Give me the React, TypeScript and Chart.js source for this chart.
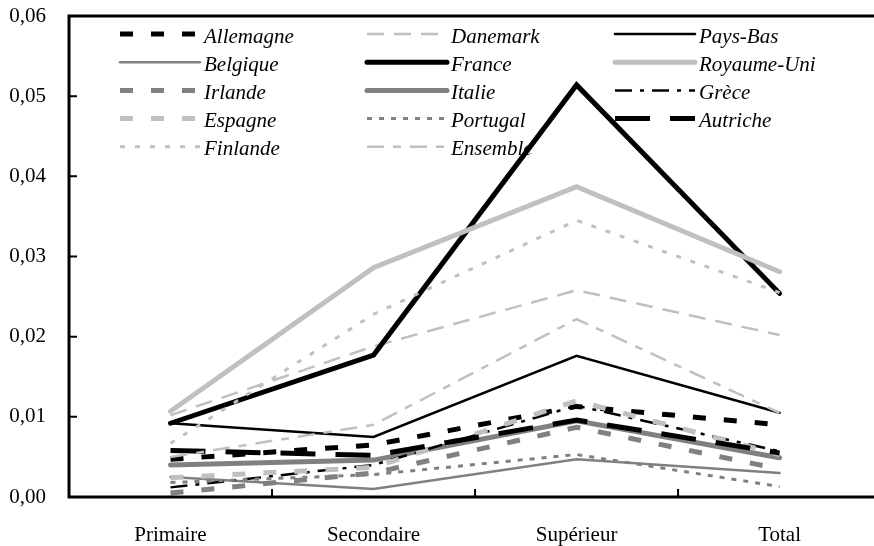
import React, { useEffect, useRef } from 'react';
import { Chart, registerables } from 'chart.js';

Chart.register(...registerables);

const categories = ['Primaire', 'Secondaire', 'Supérieur', 'Total'];

const allemagne = [0.0047, 0.0065, 0.0113, 0.009];
const danemark = [0.0102, 0.0188, 0.0258, 0.0202];
const paysBas = [0.0092, 0.0075, 0.0176, 0.0105];
const belgique = [0.0025, 0.001, 0.0047, 0.003];
const france = [0.0092, 0.0177, 0.0514, 0.0254];
const royaumeUni = [0.0107, 0.0286, 0.0387, 0.0281];
const irlande = [0.0005, 0.003, 0.0087, 0.0035];
const italie = [0.004, 0.0046, 0.0095, 0.0049];
const grece = [0.0012, 0.004, 0.0114, 0.0057];
const espagne = [0.0024, 0.0037, 0.012, 0.0053];
const portugal = [0.0018, 0.0028, 0.0053, 0.0013];
const autriche = [0.0058, 0.0052, 0.0096, 0.0055];
const finlande = [0.0067, 0.0228, 0.0345, 0.0255];
const ensemble = [0.005, 0.009, 0.0222, 0.0105];

const BLACK = '#000000';
const GRAY = '#808080';
const LIGHT = '#c0c0c0';

const series = [
  { label: 'Allemagne', data: allemagne, color: BLACK, width: 5, dash: [13, 18] },
  { label: 'Danemark', data: danemark, color: LIGHT, width: 2.5, dash: [17, 10] },
  { label: 'Pays-Bas', data: paysBas, color: BLACK, width: 2.5, dash: [] },
  { label: 'Belgique', data: belgique, color: GRAY, width: 2.5, dash: [] },
  { label: 'France', data: france, color: BLACK, width: 5, dash: [] },
  { label: 'Royaume-Uni', data: royaumeUni, color: LIGHT, width: 5, dash: [] },
  { label: 'Irlande', data: irlande, color: GRAY, width: 5, dash: [13, 18] },
  { label: 'Italie', data: italie, color: GRAY, width: 5, dash: [] },
  { label: 'Grèce', data: grece, color: BLACK, width: 2.5, dash: [17, 8, 4, 8] },
  { label: 'Espagne', data: espagne, color: LIGHT, width: 5, dash: [13, 18] },
  { label: 'Portugal', data: portugal, color: GRAY, width: 3, dash: [5, 7] },
  { label: 'Autriche', data: autriche, color: BLACK, width: 5, dash: [35, 20] },
  { label: 'Finlande', data: finlande, color: LIGHT, width: 3, dash: [5, 10] },
  { label: 'Ensemble', data: ensemble, color: LIGHT, width: 2.5, dash: [17, 9, 8, 9] },
];

const FONT = '"Liberation Serif", "Times New Roman", serif';

const decor = {
  id: 'decor',
  beforeDatasetsDraw(chart: any) {
    const ctx = chart.ctx;
    ctx.save();
    const cols = [120, 367, 615];
    chart.data.datasets.forEach((ds: any, i: number) => {
      const x0 = cols[i % 3];
      const y = 34 + Math.floor(i / 3) * 28.2;
      ctx.beginPath();
      ctx.strokeStyle = ds.borderColor;
      ctx.lineWidth = ds.borderWidth;
      ctx.setLineDash(ds.borderDash || []);
      ctx.lineCap = ds.borderDash && ds.borderDash.length ? 'butt' : 'round';
      ctx.moveTo(x0, y);
      ctx.lineTo(x0 + 80, y);
      ctx.stroke();
      ctx.setLineDash([]);
      ctx.font = `italic 21px ${FONT}`;
      ctx.fillStyle = '#000';
      ctx.textAlign = 'left';
      ctx.textBaseline = 'alphabetic';
      ctx.fillText(ds.label, x0 + 84, y + 8.5);
    });
    ctx.restore();
  },
  afterDatasetsDraw(chart: any) {
    const ctx = chart.ctx;
    const { left, top, bottom } = chart.chartArea;
    const xs = chart.scales.x;
    const ys = chart.scales.y;
    const W = chart.width;
    ctx.save();
    ctx.strokeStyle = '#000';
    ctx.lineWidth = 3;
    ctx.setLineDash([]);
    ctx.lineCap = 'butt';
    ctx.beginPath();
    ctx.moveTo(left, top);
    ctx.lineTo(W, top);
    ctx.moveTo(left, top - 1.5);
    ctx.lineTo(left, bottom + 1.5);
    ctx.moveTo(left - 1.5, bottom);
    ctx.lineTo(W, bottom);
    ctx.stroke();
    ctx.lineWidth = 2;
    ctx.beginPath();
    for (let v = 1; v <= 5; v++) {
      const y = ys.getPixelForValue(v / 100);
      ctx.moveTo(left, y);
      ctx.lineTo(left + 8, y);
    }
    for (let i = 0; i < categories.length - 1; i++) {
      const x = xs.getPixelForValue(i + 0.5);
      ctx.moveTo(x, bottom);
      ctx.lineTo(x, bottom - 8);
    }
    ctx.stroke();
    ctx.restore();
  },
};

export default function App() {
  const ref = useRef<HTMLCanvasElement>(null);
  useEffect(() => {
    if (!ref.current) return;
    const chart = new Chart(ref.current, {
      type: 'line',
      data: {
        datasets: series.map((s, i) => ({
          label: s.label,
          data: s.data.map((v, j) => ({ x: j, y: v })),
          borderColor: s.color,
          backgroundColor: s.color,
          borderWidth: s.width,
          borderDash: s.dash,
          borderCapStyle: s.dash.length ? 'butt' : 'round',
          borderJoinStyle: 'miter',
          pointRadius: 0,
          fill: false,
          tension: 0,
          order: series.length - i,
        })),
      },
      plugins: [decor],
      options: {
        animation: false,
        responsive: false,
        devicePixelRatio: 1,
        layout: { padding: { top: 16, right: 0, bottom: 0, left: 0 } },
        plugins: { legend: { display: false }, tooltip: { enabled: false } },
        scales: {
          x: {
            type: 'linear',
            min: -0.5,
            max: 3.465,
            grid: { display: false, drawTicks: false },
            border: { display: false },
            afterBuildTicks: (s: any) => {
              s.ticks = categories.map((_, i) => ({ value: i }));
            },
            afterFit: (s: any) => {
              s.height = 49;
              s.paddingLeft = 0;
              s.paddingRight = 0;
            },
            ticks: {
              callback: (v: any) => categories[v] ?? '',
              font: { family: FONT, size: 21 },
              color: '#000',
              padding: 26,
              maxRotation: 0,
              autoSkip: false,
            },
          },
          y: {
            min: 0,
            max: 0.06,
            grid: { display: false, drawTicks: false },
            border: { display: false },
            afterFit: (s: any) => {
              s.width = 69;
              s.paddingTop = 0;
              s.paddingBottom = 0;
            },
            ticks: {
              stepSize: 0.01,
              callback: (v: any) => Number(v).toFixed(2).replace('.', ','),
              font: { family: FONT, size: 21 },
              color: '#000',
              padding: 23,
            },
          },
        },
      } as any,
    });
    return () => chart.destroy();
  }, []);
  return (
    <div style={{ position: 'absolute', left: 0, top: 0, width: 874, height: 546, background: '#fff' }}>
      <canvas ref={ref} width={874} height={546} />
    </div>
  );
}
